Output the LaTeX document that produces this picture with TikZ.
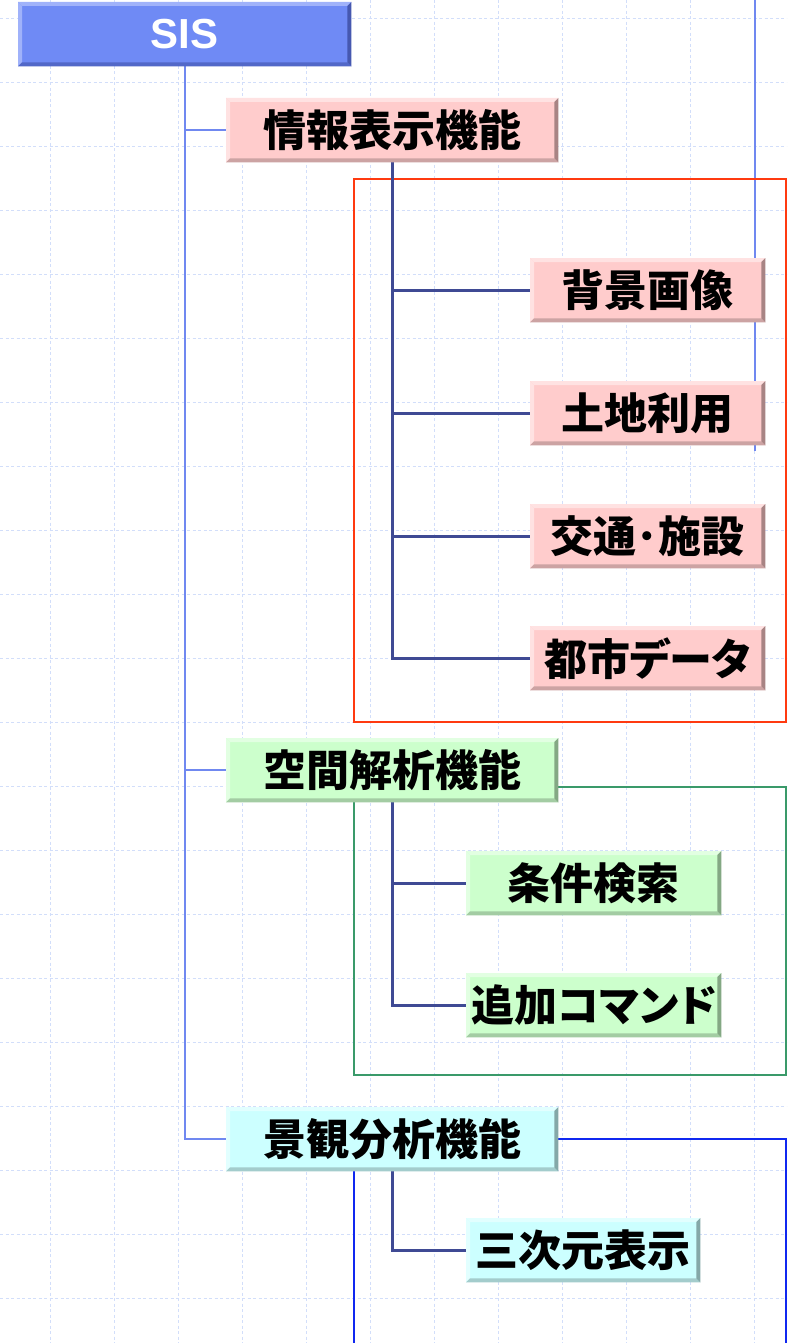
\documentclass[tikz,border=0pt]{standalone}
\usepackage{fontspec}
\setmainfont{Liberation Sans}
\newfontfamily\jp{Noto Sans CJK JP}[RawFeature=+palt]
\definecolor{gridc}{HTML}{D2DEFA}
\definecolor{trunkc}{HTML}{7088F0}
\definecolor{navy}{HTML}{3F4A94}
\definecolor{sisf}{HTML}{6F8AF5}
\definecolor{sisl}{HTML}{A0B2FA}
\definecolor{sisb}{HTML}{5268C8}
\definecolor{sisr}{HTML}{4658B0}
\definecolor{pinkf}{HTML}{FFCCCC}
\definecolor{pinkl}{HTML}{FFE2E2}
\definecolor{pinkb}{HTML}{CCA3A3}
\definecolor{pinkr}{HTML}{A88484}
\definecolor{greenf}{HTML}{CCFFCC}
\definecolor{greenl}{HTML}{E2FFE2}
\definecolor{greenb}{HTML}{A3CCA3}
\definecolor{greenr}{HTML}{84A884}
\definecolor{cyanf}{HTML}{CCFFFF}
\definecolor{cyanl}{HTML}{E2FFFF}
\definecolor{cyanb}{HTML}{A3CCCC}
\definecolor{cyanr}{HTML}{84A8A8}
\definecolor{redf}{HTML}{FF3A10}
\definecolor{greenfr}{HTML}{3A9A6A}
\definecolor{bluefr}{HTML}{1028F0}
\newcommand\bevelbox[4]{%
  \fill[#2] (#1.north west) -- (#1.north east) -- ([shift={(-4pt,-4pt)}]#1.north east) -- ([shift={(4pt,-4pt)}]#1.north west) -- cycle;
  \fill[#2] (#1.north west) -- ([shift={(4pt,-4pt)}]#1.north west) -- ([shift={(4pt,4pt)}]#1.south west) -- (#1.south west) -- cycle;
  \fill[#3] (#1.south west) -- (#1.south east) -- ([shift={(-4pt,4pt)}]#1.south east) -- ([shift={(4pt,4pt)}]#1.south west) -- cycle;
  \fill[#4] (#1.north east) -- (#1.south east) -- ([shift={(-4pt,4pt)}]#1.south east) -- ([shift={(-4pt,-4pt)}]#1.north east) -- cycle;
}
\newcommand\lowtxt[1]{\raisebox{-3pt}{#1}}
\begin{document}
\begin{tikzpicture}[x=1pt,y=-1pt,
  gridl/.style={draw=gridc, line width=1pt, dash pattern=on 3pt off 2.5pt},
  bx/.style={rectangle, inner sep=0pt, anchor=north west, font=\jp\bfseries\fontsize{43}{43}\selectfont},
  trunk/.style={draw=trunkc, line width=1.6pt},
  sub/.style={draw=navy, line width=2.6pt},
  frame/.style={line width=1.8pt},
]
\clip (0,0) rectangle (787,1343);
\fill[white] (0,0) rectangle (787,1343);
% grid
\foreach \k in {0,...,20} \draw[gridl] (0,18.3+64*\k) -- (787,18.3+64*\k);
\foreach \k in {0,...,11} \draw[gridl] (50.7+64*\k,0) -- (50.7+64*\k,1343);
% stray blue line
\draw[draw=trunkc, line width=2pt] (754.5,0) -- (754.5,451);
% frames
\draw[frame, draw=redf] (354,179) rectangle (786,722);
\draw[frame, draw=greenfr] (354,787) rectangle (786,1075);
\draw[frame, draw=bluefr] (786,1400) -- (786,1139) -- (540,1139);
\draw[frame, draw=bluefr] (354,1150) -- (354,1400);
% nodes
\node[bx, fill=sisf, minimum width=333pt, minimum height=64pt, font=\bfseries\fontsize{42}{42}\selectfont, text=white] (sis) at (18,2) {SIS};
\node[bx, fill=pinkf, minimum width=332pt, minimum height=64pt] (info) at (226,98) {\lowtxt{情報表示機能}};
\node[bx, fill=pinkf, minimum width=235pt, minimum height=64pt] (haikei) at (530,258) {\lowtxt{背景画像}};
\node[bx, fill=pinkf, minimum width=235pt, minimum height=64pt] (tochi) at (530,381) {\lowtxt{土地利用}};
\node[bx, fill=pinkf, minimum width=235pt, minimum height=64pt] (kotsu) at (530,504) {\lowtxt{交通･施設}};
\node[bx, fill=pinkf, minimum width=235pt, minimum height=64pt] (toshi) at (530,626) {\lowtxt{都市データ}};
\node[bx, fill=greenf, minimum width=332pt, minimum height=64pt] (kukan) at (226,738) {\lowtxt{空間解析機能}};
\node[bx, fill=greenf, minimum width=255pt, minimum height=64pt] (joken) at (466,851) {\lowtxt{条件検索}};
\node[bx, fill=greenf, minimum width=255pt, minimum height=64pt] (tsuika) at (466,973) {\lowtxt{追加コマンド}};
\node[bx, fill=cyanf, minimum width=332pt, minimum height=64pt] (keikan) at (226,1107) {\lowtxt{景観分析機能}};
\node[bx, fill=cyanf, minimum width=234pt, minimum height=64pt] (sanji) at (466,1218) {\lowtxt{三次元表示}};
% connectors
\draw[trunk] (sis.south) |- (info.west);
\draw[trunk] (sis.south) |- (kukan.west);
\draw[trunk] (sis.south) |- (keikan.west);
\draw[sub] (info.south) |- (haikei.west);
\draw[sub] (info.south) |- (tochi.west);
\draw[sub] (info.south) |- (kotsu.west);
\draw[sub] (info.south) |- (toshi.west);
\draw[sub] (kukan.south) |- (joken.west);
\draw[sub] (kukan.south) |- (tsuika.west);
\draw[sub] (keikan.south) |- (sanji.west);
% bevels
\bevelbox{sis}{sisl}{sisb}{sisr}
\bevelbox{info}{pinkl}{pinkb}{pinkr}
\bevelbox{haikei}{pinkl}{pinkb}{pinkr}
\bevelbox{tochi}{pinkl}{pinkb}{pinkr}
\bevelbox{kotsu}{pinkl}{pinkb}{pinkr}
\bevelbox{toshi}{pinkl}{pinkb}{pinkr}
\bevelbox{kukan}{greenl}{greenb}{greenr}
\bevelbox{joken}{greenl}{greenb}{greenr}
\bevelbox{tsuika}{greenl}{greenb}{greenr}
\bevelbox{keikan}{cyanl}{cyanb}{cyanr}
\bevelbox{sanji}{cyanl}{cyanb}{cyanr}
\end{tikzpicture}
\end{document}
